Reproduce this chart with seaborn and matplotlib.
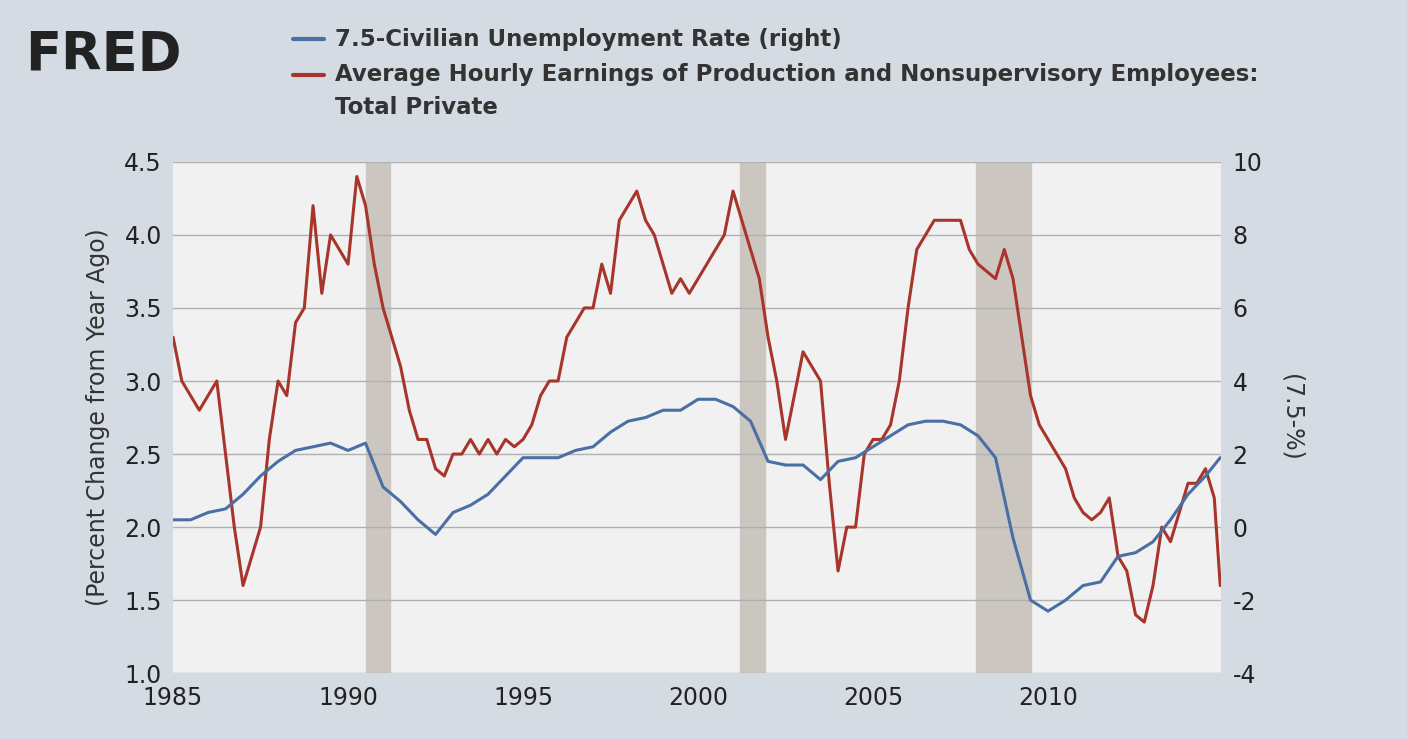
import numpy as np
import pandas as pd
import matplotlib
matplotlib.use("Agg")
import matplotlib.pyplot as plt
import seaborn as sns

# Average hourly earnings, % change from year ago (quarterly readings)
earn_start = 1985.0
earnings = [3.3, 3.0, 2.9, 2.8, 2.9, 3.0, 2.5, 2.0, 1.6, 1.8, 2.0, 2.6,
            3.0, 2.9, 3.4, 3.5, 4.2, 3.6, 4.0, 3.9, 3.8, 4.4, 4.2, 3.8,
            3.5, 3.3, 3.1, 2.8, 2.6, 2.6, 2.4, 2.35, 2.5, 2.5, 2.6, 2.5,
            2.6, 2.5, 2.6, 2.55, 2.6, 2.7, 2.9, 3.0, 3.0, 3.3, 3.4, 3.5,
            3.5, 3.8, 3.6, 4.1, 4.2, 4.3, 4.1, 4.0, 3.8, 3.6, 3.7, 3.6,
            3.7, 3.8, 3.9, 4.0, 4.3, 4.1, 3.9, 3.7, 3.3, 3.0, 2.6, 2.9,
            3.2, 3.1, 3.0, 2.3, 1.7, 2.0, 2.0, 2.5, 2.6, 2.6, 2.7, 3.0,
            3.5, 3.9, 4.0, 4.1, 4.1, 4.1, 4.1, 3.9, 3.8, 3.75, 3.7, 3.9,
            3.7, 3.3, 2.9, 2.7, 2.6, 2.5, 2.4, 2.2, 2.1, 2.05, 2.1, 2.2,
            1.8, 1.7, 1.4, 1.35, 1.6, 2.0, 1.9, 2.1, 2.3, 2.3, 2.4, 2.2, 1.6]

# Civilian unemployment rate (semi-annual readings)
unemp_rate = [7.3, 7.3, 7.1, 7.0, 6.6, 6.1, 5.7, 5.4, 5.3, 5.2, 5.4, 5.2,
              6.4, 6.8, 7.3, 7.7, 7.1, 6.9, 6.6, 6.1, 5.6, 5.6, 5.6, 5.4,
              5.3, 4.9, 4.6, 4.5, 4.3, 4.3, 4.0, 4.0, 4.2, 4.6, 5.7, 5.8,
              5.8, 6.2, 5.7, 5.6, 5.3, 5.0, 4.7, 4.6, 4.6, 4.7, 5.0, 5.6,
              7.8, 9.5, 9.8, 9.5, 9.1, 9.0, 8.3, 8.2, 7.9, 7.3, 6.6, 6.1, 5.6]

recessions = [(1990.5, 1991.2), (2001.2, 2001.9), (2007.95, 2009.5)]

ex = [earn_start + 0.25 * i for i in range(len(earnings) - 1)] + [2014.92]
ux = [1985.0 + 0.5 * i for i in range(len(unemp_rate) - 1)] + [2014.92]
earn_df = pd.DataFrame({"year": ex, "value": earnings})
unemp_df = pd.DataFrame({"year": ux, "value": [7.5 - r for r in unemp_rate]})

sns.set_style("white")
plt.rcParams["font.family"] = ["DejaVu Sans"]
plt.rcParams["axes.unicode_minus"] = False

fig = plt.figure(figsize=(14.07, 7.39), dpi=100)
fig.patch.set_facecolor("#D5DBE3")
ax = fig.add_axes([0.123, 0.089, 0.745, 0.692])
ax.set_facecolor("#F1F1F1")
ax2 = ax.twinx()

for a, b in recessions:
    ax.axvspan(a, b, color="#CCC6C1", zorder=0)

red = "#A8352B"
blue = "#4A6FA5"
sns.lineplot(data=earn_df, x="year", y="value", ax=ax, color=red, lw=2.2)
sns.lineplot(data=unemp_df, x="year", y="value", ax=ax2, color=blue, lw=2.2)

ax.set_xlim(1985, 2014.95)
ax.set_ylim(1.0, 4.5)
ax2.set_ylim(-4, 10)
ax.set_yticks(np.arange(1.0, 4.51, 0.5))
ax.set_yticklabels([f"{v:.1f}" for v in np.arange(1.0, 4.51, 0.5)])
ax2.set_yticks(range(-4, 11, 2))
ax.set_xticks(range(1985, 2015, 5))
ax.grid(axis="y", color="#B0B0B0", lw=1)
ax.set_axisbelow(True)
for a in (ax, ax2):
    for s in a.spines.values():
        s.set_visible(False)
    a.tick_params(labelsize=17, colors="#222222", length=0, pad=8)
ax.tick_params(axis="x", length=5, width=1, color="#888888", pad=4)
ax.set_xlabel("")
ax.set_ylabel("(Percent Change from Year Ago)", fontsize=17, color="#333333", labelpad=10)
ax2.set_ylabel("(7.5-%)", fontsize=17, color="#333333", rotation=270, labelpad=30)

fig.text(0.018, 0.905, "FRED", fontsize=38, fontweight="bold", color="#222222")
fig.lines.append(plt.Line2D([0.208, 0.230], [0.947, 0.947], color=blue, lw=3, transform=fig.transFigure))
fig.lines.append(plt.Line2D([0.208, 0.230], [0.899, 0.899], color=red, lw=3, transform=fig.transFigure))
fig.text(0.238, 0.947, "7.5-Civilian Unemployment Rate (right)", fontsize=16.5,
         fontweight="bold", color="#333333", va="center")
fig.text(0.238, 0.899, "Average Hourly Earnings of Production and Nonsupervisory Employees:",
         fontsize=16.5, fontweight="bold", color="#333333", va="center")
fig.text(0.238, 0.855, "Total Private", fontsize=16.5, fontweight="bold",
         color="#333333", va="center")

fig.savefig("out.png", dpi=100, facecolor=fig.get_facecolor())
